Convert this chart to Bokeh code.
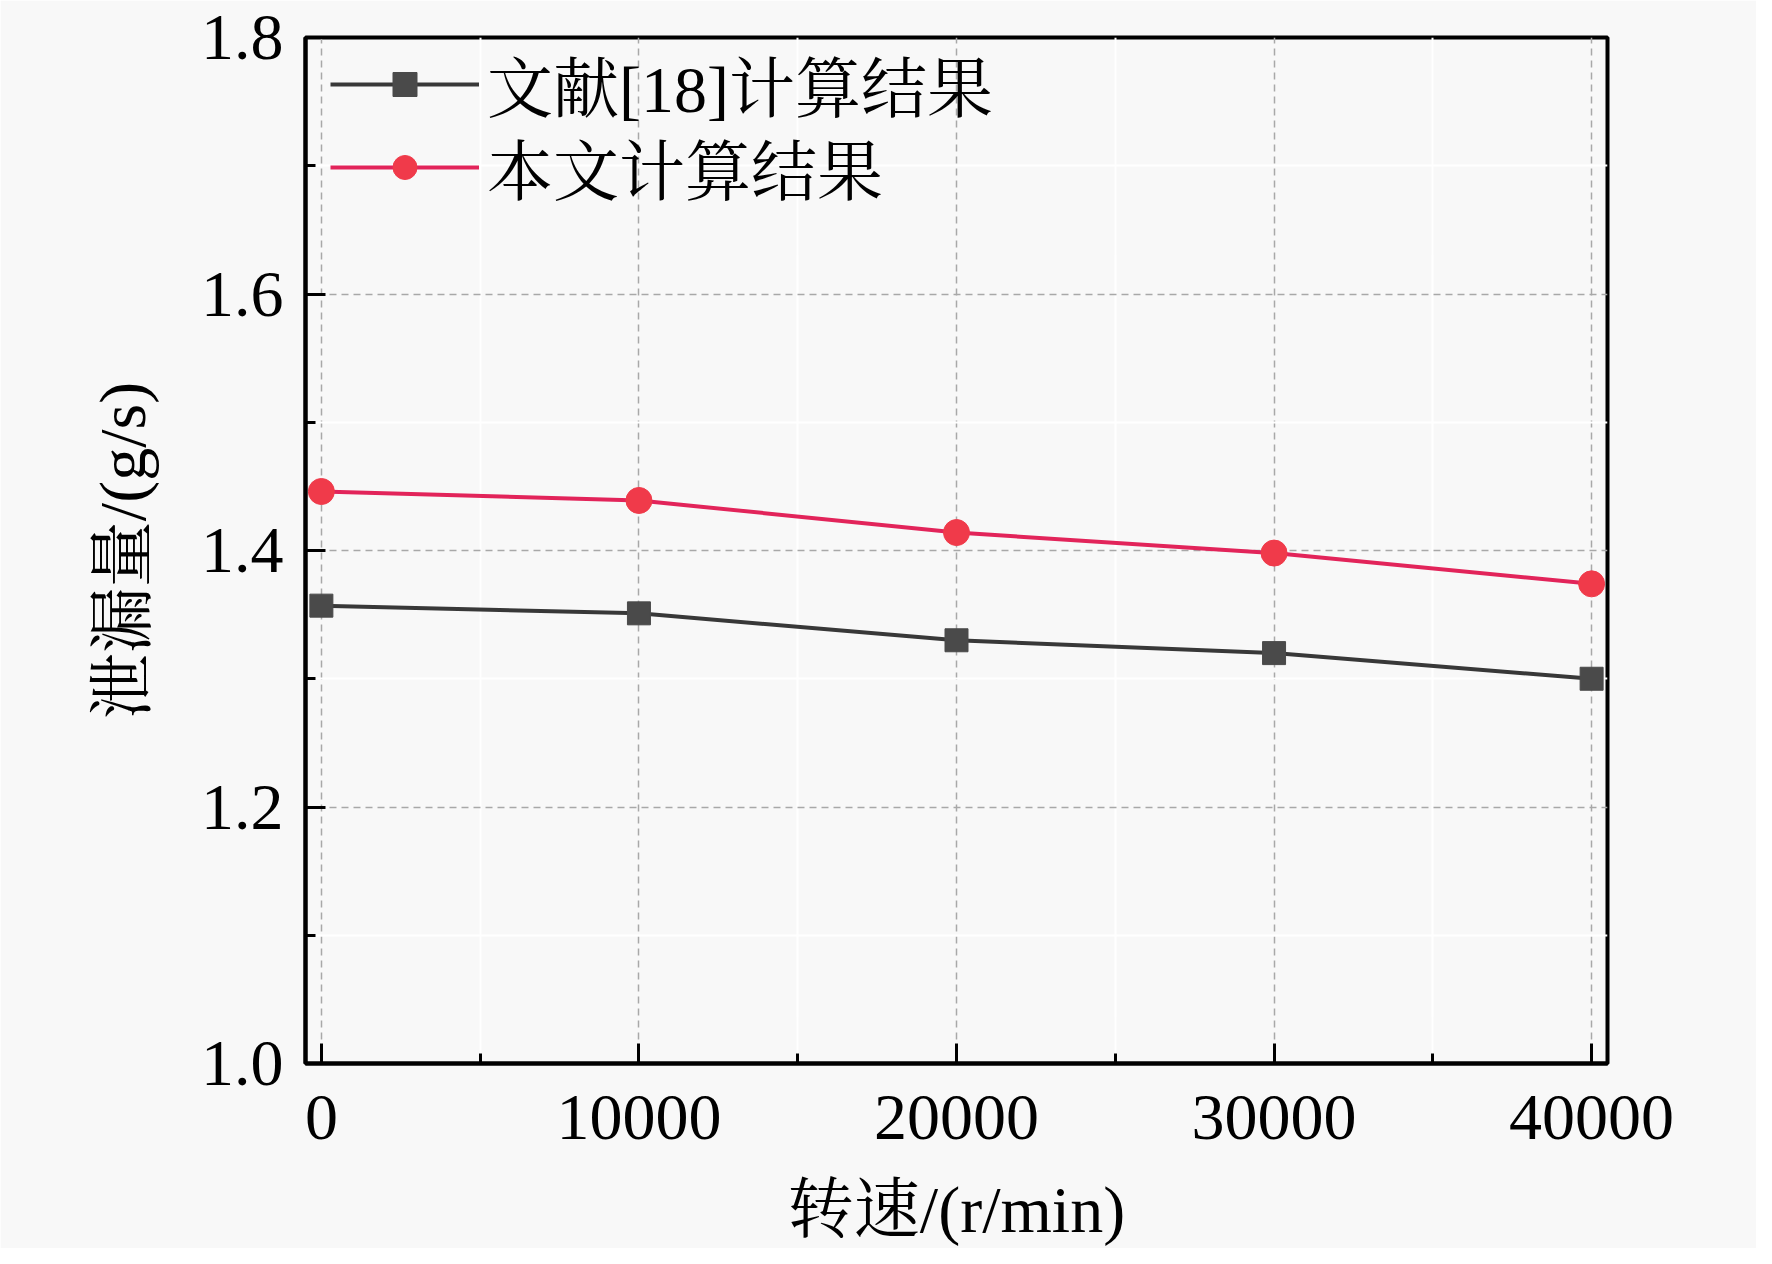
from bokeh.plotting import figure
from bokeh.models import FixedTicker, Legend, LegendItem, Range1d, NumeralTickFormatter
from bokeh.embed import file_html
from bokeh.resources import INLINE

speed = [0, 10000, 20000, 30000, 40000]
ref18 = [1.357, 1.351, 1.330, 1.320, 1.300]
this_work = [1.446, 1.439, 1.414, 1.398, 1.374]
x_ticks = [0, 10000, 20000, 30000, 40000]
x_minor = [5000, 15000, 25000, 35000]
y_ticks = [1.0, 1.2, 1.4, 1.6, 1.8]
y_minor = [1.1, 1.3, 1.5, 1.7]
name_ref = "文献[18]计算结果"
name_this = "本文计算结果"
x_label = "转速/(r/min)"
y_label = "泄漏量/(g/s)"

FONT = "'Liberation Serif', 'Times New Roman', 'Noto Serif CJK SC', 'Noto Sans CJK SC', serif"
NUM_FONT = "Liberation Serif"
BG = "#f8f8f8"

p = figure(width=1756, height=1248, output_backend="svg", toolbar_location=None,
           x_range=Range1d(-500, 40500), y_range=Range1d(1.0, 1.8),
           min_border_left=305, min_border_right=149, min_border_top=37, min_border_bottom=167)
p.background_fill_color = BG
p.border_fill_color = BG
p.outline_line_color = "black"
p.outline_line_width = 4

for ax, ticks, minor in ((p.xaxis[0], x_ticks, x_minor), (p.yaxis[0], y_ticks, y_minor)):
    ax.ticker = FixedTicker(ticks=ticks, minor_ticks=minor)
    ax.axis_line_width = 4
    ax.axis_line_color = "black"
    ax.major_tick_in = 20
    ax.major_tick_out = 0
    ax.minor_tick_in = 10
    ax.minor_tick_out = 0
    ax.major_tick_line_width = 3
    ax.minor_tick_line_width = 3
    ax.major_label_text_font = NUM_FONT
    ax.major_label_text_font_size = "66px"
    ax.major_label_text_color = "black"
    ax.axis_label_text_font = FONT
    ax.axis_label_text_font_size = "66px"
    ax.axis_label_text_font_style = "normal"
    ax.axis_label_text_color = "black"

p.yaxis[0].formatter = NumeralTickFormatter(format="0.0")
p.xaxis[0].formatter = NumeralTickFormatter(format="0")
p.xaxis[0].axis_label = x_label
p.yaxis[0].axis_label = y_label
p.xaxis[0].major_label_standoff = 32
p.yaxis[0].major_label_standoff = 22
p.xaxis[0].axis_label_standoff = 31
p.yaxis[0].axis_label_standoff = 39

for g, ticks, minor in ((p.xgrid[0], x_ticks, x_minor), (p.ygrid[0], y_ticks, y_minor)):
    g.ticker = FixedTicker(ticks=ticks, minor_ticks=minor)
    g.grid_line_color = "#a8a8a8"
    g.grid_line_width = 1.5
    g.grid_line_dash = "7 5"
    g.minor_grid_line_color = "white"
    g.minor_grid_line_width = 2

l1 = p.line(speed, ref18, line_color="#383838", line_width=4)
m1 = p.scatter(speed, ref18, marker="square", size=23, fill_color="#4a4a4a", line_color="#4a4a4a")
l2 = p.line(speed, this_work, line_color="#e2245a", line_width=4)
m2 = p.scatter(speed, this_work, marker="circle", size=26, fill_color="#f03a4a", line_color="#f03a4a")

def make_legend(label, renderers, loc):
    lg = Legend(items=[LegendItem(label=label, renderers=renderers)], location=loc)
    lg.border_line_color = None
    lg.background_fill_alpha = 0
    lg.label_text_font = FONT
    lg.label_text_font_size = "66px"
    lg.label_text_color = "black"
    lg.glyph_width = 149
    lg.glyph_height = 60
    lg.label_height = 60
    lg.label_standoff = 8
    lg.spacing = 0
    lg.padding = 0
    lg.margin = 0
    return lg

p.add_layout(make_legend(name_ref, [l1, m1], (25, 932)), "center")
p.add_layout(make_legend(name_this, [l2, m2], (25, 849)), "center")

open("out.html", "w").write(file_html(p, INLINE))
